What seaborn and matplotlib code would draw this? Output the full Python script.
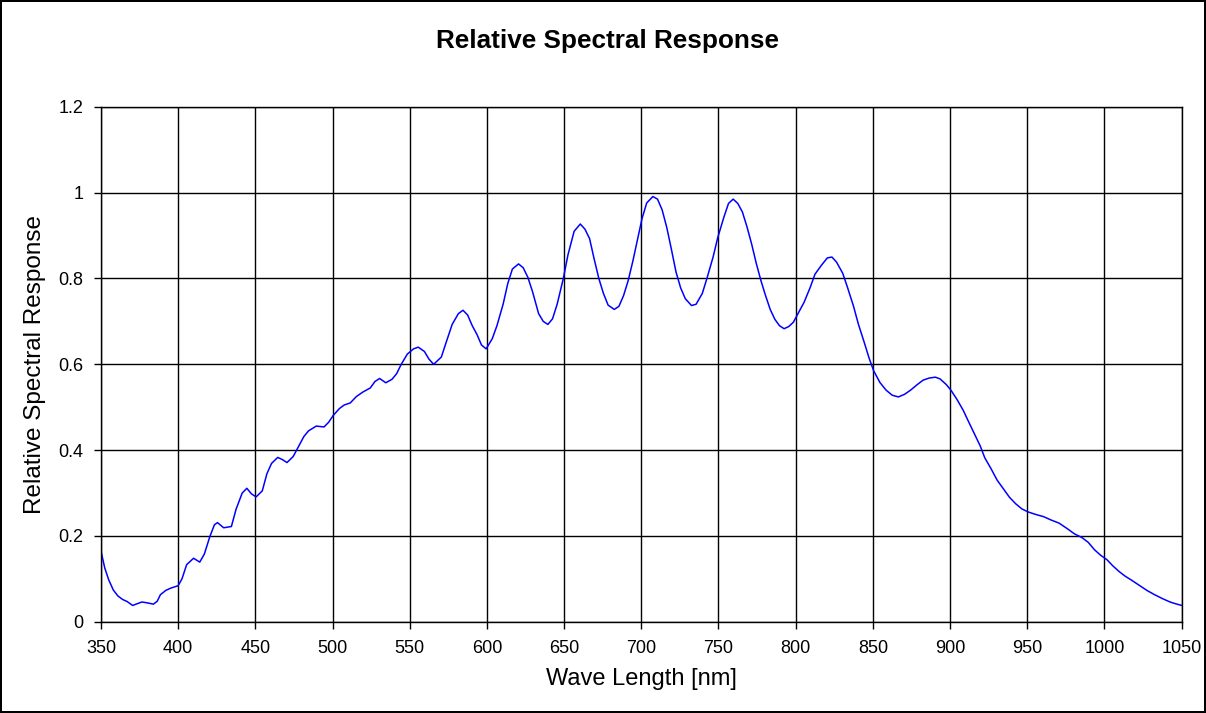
import seaborn as sns
import matplotlib.pyplot as plt
import pandas as pd
from matplotlib.ticker import FuncFormatter

# values
wavelength = [350, 352.5, 355, 358, 361, 364, 367, 370.5, 373.5, 376.5, 380, 384, 386.5,
              388.5, 392, 395, 400, 402.5, 405.5, 410, 414, 417, 420.5, 423.5, 425.5,
              429.5, 434.5, 437.5, 441.5, 444.5, 447.5, 450.5, 454.5, 457.5, 460.5, 464.5,
              467.5, 470.5, 474.5, 477.5, 481.5, 484.5, 489.5, 494.5, 497.5, 500.5, 504.5,
              507.5, 511.5, 515.5, 519.5, 524.5, 527.5, 530.5, 534.5, 538.5, 541.5, 544.5,
              548.5, 552.5, 555.5, 559.5, 562.5, 565.5, 570.5, 573.5, 577.5, 581.5, 584.5,
              587.5, 590.5, 593.5, 596.5, 599.5, 603.5, 606.5, 610.5, 613.5, 616.5, 620.5,
              623.5, 626.5, 629.5, 633.5, 636.5, 639.5, 642.5, 645.5, 649.5, 652.5, 656.5,
              660.5, 663.5, 666.5, 669.5, 672.5, 675.5, 678.5, 682.5, 685.5, 688.5, 691.5,
              694.5, 697.5, 700.5, 703.5, 707.5, 710.5, 713.5, 716.5, 719.5, 722.5, 725.5,
              728.5, 732.5, 735.5, 739.5, 742.5, 746.5, 749.5, 753.5, 756.5, 759.5, 762.5,
              765.5, 768.5, 771.5, 774.5, 777.5, 780.5, 783.5, 786.5, 789.5, 792.5, 795.5,
              798.5, 802.5, 805.5, 809.5, 812.5, 816.5, 820.5, 823.5, 826.5, 830.5, 833.5,
              837.5, 840.5, 844.5, 847.5, 850.5, 854.5, 858.5, 862.5, 866.5, 870.5, 874.5,
              878.5, 882.5, 886.5, 890.5, 893.5, 897.5, 900.5, 904.5, 908.5, 911.5, 915.5,
              919.5, 922.5, 926.5, 930.5, 934.5, 938.5, 942.5, 946.5, 950.5, 955.5, 960.5,
              965.5, 970.5, 975.5, 980.5, 985.5, 989.5, 993.5, 997.5, 1001.5, 1005.5,
              1009.5, 1013.5, 1017.5, 1022.5, 1027.5, 1032.5, 1037.5, 1042.5, 1046, 1050]
response = [0.165, 0.125, 0.098, 0.074, 0.060, 0.052, 0.047, 0.038, 0.042, 0.046, 0.044,
            0.041, 0.048, 0.063, 0.073, 0.078, 0.084, 0.100, 0.133, 0.148, 0.139, 0.158,
            0.198, 0.226, 0.231, 0.219, 0.222, 0.262, 0.300, 0.311, 0.298, 0.291, 0.305,
            0.345, 0.369, 0.383, 0.378, 0.371, 0.385, 0.405, 0.432, 0.445, 0.456, 0.454,
            0.465, 0.481, 0.497, 0.505, 0.510, 0.525, 0.535, 0.545, 0.560, 0.567, 0.557,
            0.565, 0.578, 0.600, 0.624, 0.636, 0.640, 0.630, 0.612, 0.600, 0.617, 0.650,
            0.693, 0.718, 0.726, 0.715, 0.690, 0.670, 0.645, 0.636, 0.660, 0.690, 0.740,
            0.788, 0.822, 0.834, 0.825, 0.803, 0.770, 0.718, 0.700, 0.693, 0.706, 0.740,
            0.800, 0.855, 0.910, 0.927, 0.915, 0.893, 0.845, 0.800, 0.765, 0.738, 0.728,
            0.735, 0.760, 0.795, 0.840, 0.890, 0.940, 0.976, 0.991, 0.985, 0.960, 0.919,
            0.868, 0.815, 0.778, 0.753, 0.737, 0.740, 0.765, 0.800, 0.850, 0.895, 0.943,
            0.975, 0.985, 0.975, 0.955, 0.920, 0.880, 0.835, 0.795, 0.760, 0.728, 0.705,
            0.690, 0.683, 0.688, 0.698, 0.725, 0.745, 0.780, 0.810, 0.830, 0.848, 0.850,
            0.838, 0.812, 0.780, 0.735, 0.695, 0.650, 0.615, 0.585, 0.558, 0.540, 0.528,
            0.524, 0.530, 0.540, 0.552, 0.563, 0.568, 0.570, 0.566, 0.553, 0.540, 0.518,
            0.493, 0.470, 0.440, 0.410, 0.382, 0.357, 0.330, 0.310, 0.290, 0.275, 0.263,
            0.256, 0.250, 0.245, 0.237, 0.230, 0.218, 0.205, 0.196, 0.185, 0.168, 0.155,
            0.145, 0.130, 0.117, 0.106, 0.097, 0.085, 0.073, 0.063, 0.054, 0.046, 0.042,
            0.038]
x_ticks = list(range(350, 1051, 50))
y_ticks = [0, 0.2, 0.4, 0.6, 0.8, 1.0, 1.2]

df = pd.DataFrame({'Wave Length [nm]': wavelength, 'Relative Spectral Response': response})

sns.set_style('white')
plt.rcParams['font.family'] = ['Liberation Sans', 'DejaVu Sans']
for key in ['text.color', 'axes.labelcolor', 'xtick.color', 'ytick.color']:
    plt.rcParams[key] = 'black'

fig = plt.figure(figsize=(12.06, 7.13), dpi=100)
ax = fig.add_axes([0.0837, 0.1280, 0.8961, 0.7221])
sns.lineplot(data=df, x='Wave Length [nm]', y='Relative Spectral Response',
             color='#0000ff', linewidth=1.1, ax=ax)

ax.set_xlim(350, 1050)
ax.set_ylim(0, 1.2)
ax.set_xticks(x_ticks)
ax.set_yticks(y_ticks)
ax.yaxis.set_major_formatter(FuncFormatter(lambda v, p: f'{v:g}'))
ax.grid(True, color='black', linewidth=1)
for s in ax.spines.values():
    s.set_color('black')
    s.set_linewidth(1)
ax.tick_params(axis='both', direction='out', length=5, width=1, color='black',
               labelsize=13, left=True, bottom=True)
ax.tick_params(axis='x', pad=8)
ax.tick_params(axis='y', pad=7.5)
ax.set_xlabel('Wave Length [nm]', fontsize=17)
ax.set_ylabel('Relative Spectral Response', fontsize=17.5)
ax.xaxis.set_label_coords(0.5, -0.09)
ax.yaxis.set_label_coords(-0.051, 0.5)
fig.text(0.504, 0.9425, 'Relative Spectral Response', fontsize=18.8, fontweight='bold',
         ha='center', va='center')

fig.patch.set_edgecolor('black')
fig.patch.set_linewidth(1.5)
fig.savefig('out.png', dpi=100, edgecolor=fig.get_edgecolor())
